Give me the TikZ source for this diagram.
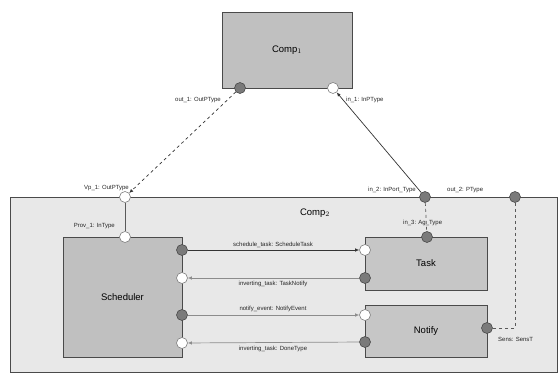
\documentclass[tikz,border=0pt]{standalone}
\usepackage{fontspec}
\setmainfont{Liberation Sans}
\usetikzlibrary{arrows.meta}
\definecolor{edgec}{HTML}{4A4A4A}
\definecolor{compfill}{HTML}{C0C0C0}
\definecolor{contfill}{HTML}{E8E8E8}
\definecolor{portfill}{HTML}{7A7A7A}
\tikzset{
  compbox/.style={draw=edgec, line width=0.9pt, fill=compfill, inner sep=0pt, font=\fontsize{9.5}{11}\selectfont},
  contbox/.style={draw=edgec, line width=0.9pt, fill=contfill, inner sep=0pt},
  provport/.style={circle, draw=edgec, fill=portfill, minimum size=11pt, inner sep=0pt, line width=0.6pt},
  reqport/.style={circle, draw=edgec!70, fill=white, minimum size=11pt, inner sep=0pt, line width=0.6pt},
  lbl/.style={font=\fontsize{6}{7}\selectfont, inner sep=1pt, text=black!85},
  conn/.style={draw=black!80, line width=0.7pt, -{Latex[length=4pt,width=3.5pt]}},
  dconn/.style={conn, dashed},
  link/.style={draw=black!65, line width=0.7pt},
  dlink/.style={link, dashed}
}
\begin{document}
\begin{tikzpicture}[x=1pt,y=-1pt]
\useasboundingbox (0,0) rectangle (558,380);
% boxes
\node[compbox, minimum width=130pt, minimum height=76pt] (comp1) at (287,50) {Comp$_1$};
\node[contbox, minimum width=547pt, minimum height=175pt] (comp2) at (283.5,284.5) {};
\node[font=\fontsize{9.5}{11}\selectfont] (comp2t) at (315,213) {Comp$_2$};
\node[compbox, minimum width=119pt, minimum height=120pt] (sched) at (122.5,297) {Scheduler};
\node[compbox, fill=compfill!90!white, minimum width=122pt, minimum height=53pt] (task) at (426,263.5) {Task};
\node[compbox, fill=compfill!90!white, minimum width=122pt, minimum height=52pt] (notify) at (426,331) {Notify};
% ports
\node[provport] (p1) at (240,88) {};
\node[reqport] (p2) at (333,88) {};
\node[reqport] (c1) at (125,197) {};
\node[provport] (c2) at (425,197) {};
\node[provport] (c3) at (515,197) {};
\node[reqport] (s0) at (125,237) {};
\node[provport] (t0) at (427,237) {};
\node[provport] (s1) at (182,250) {};
\node[reqport] (s2) at (182,278) {};
\node[provport] (s3) at (182,315) {};
\node[reqport] (s4) at (182,343) {};
\node[reqport] (t1) at (365,250) {};
\node[provport] (t2) at (365,278) {};
\node[reqport] (n1) at (365,315) {};
\node[provport] (n2) at (365,342) {};
\node[provport] (n3) at (487,328) {};
% port labels
\node[lbl, anchor=east] (lp1) at (222,100) {out\_1: OutPType};
\node[lbl, anchor=west] (lp2) at (345,100) {in\_1: InPType};
\node[lbl, anchor=east] (lc1) at (130,188) {Vp\_1: OutPType};
\node[lbl, anchor=east] (lc2) at (417,190) {in\_2: InPort\_Type};
\node[lbl, anchor=west] (lc3) at (446,190) {out\_2: PType};
\node[lbl, anchor=east] (ls0) at (116,226) {Prov\_1: InType};
\node[lbl, anchor=west] (lt0) at (402,223) {in\_3: Ag\_Type};
\node[lbl, anchor=west] (ln3) at (497,339) {Sens: SensT};
% connector labels
\node[lbl, anchor=south] (l1) at (273,249) {schedule\_task: ScheduleTask};
\node[lbl, anchor=north] (l2) at (273,280) {inverting\_task: TaskNotify};
\node[lbl, anchor=south] (l3) at (273,313) {notify\_event: NotifyEvent};
\node[lbl, anchor=north] (l4) at (273,345) {inverting\_task: DoneType};
% connectors
\draw[dconn] (p1) -- (c1);
\draw[conn] (c2) -- (p2);
\draw[link] (c1) -- (s0);
\draw[dlink] (c2) -- (t0);
\draw[dlink] (c3) |- (n3);
\draw[conn] (s1) -- (t1);
\draw[conn, draw=black!45] (t2) -- (s2);
\draw[conn, draw=black!45] (s3) -- (n1);
\draw[conn, draw=black!45] (n2) -- (s4);
\end{tikzpicture}
\end{document}
